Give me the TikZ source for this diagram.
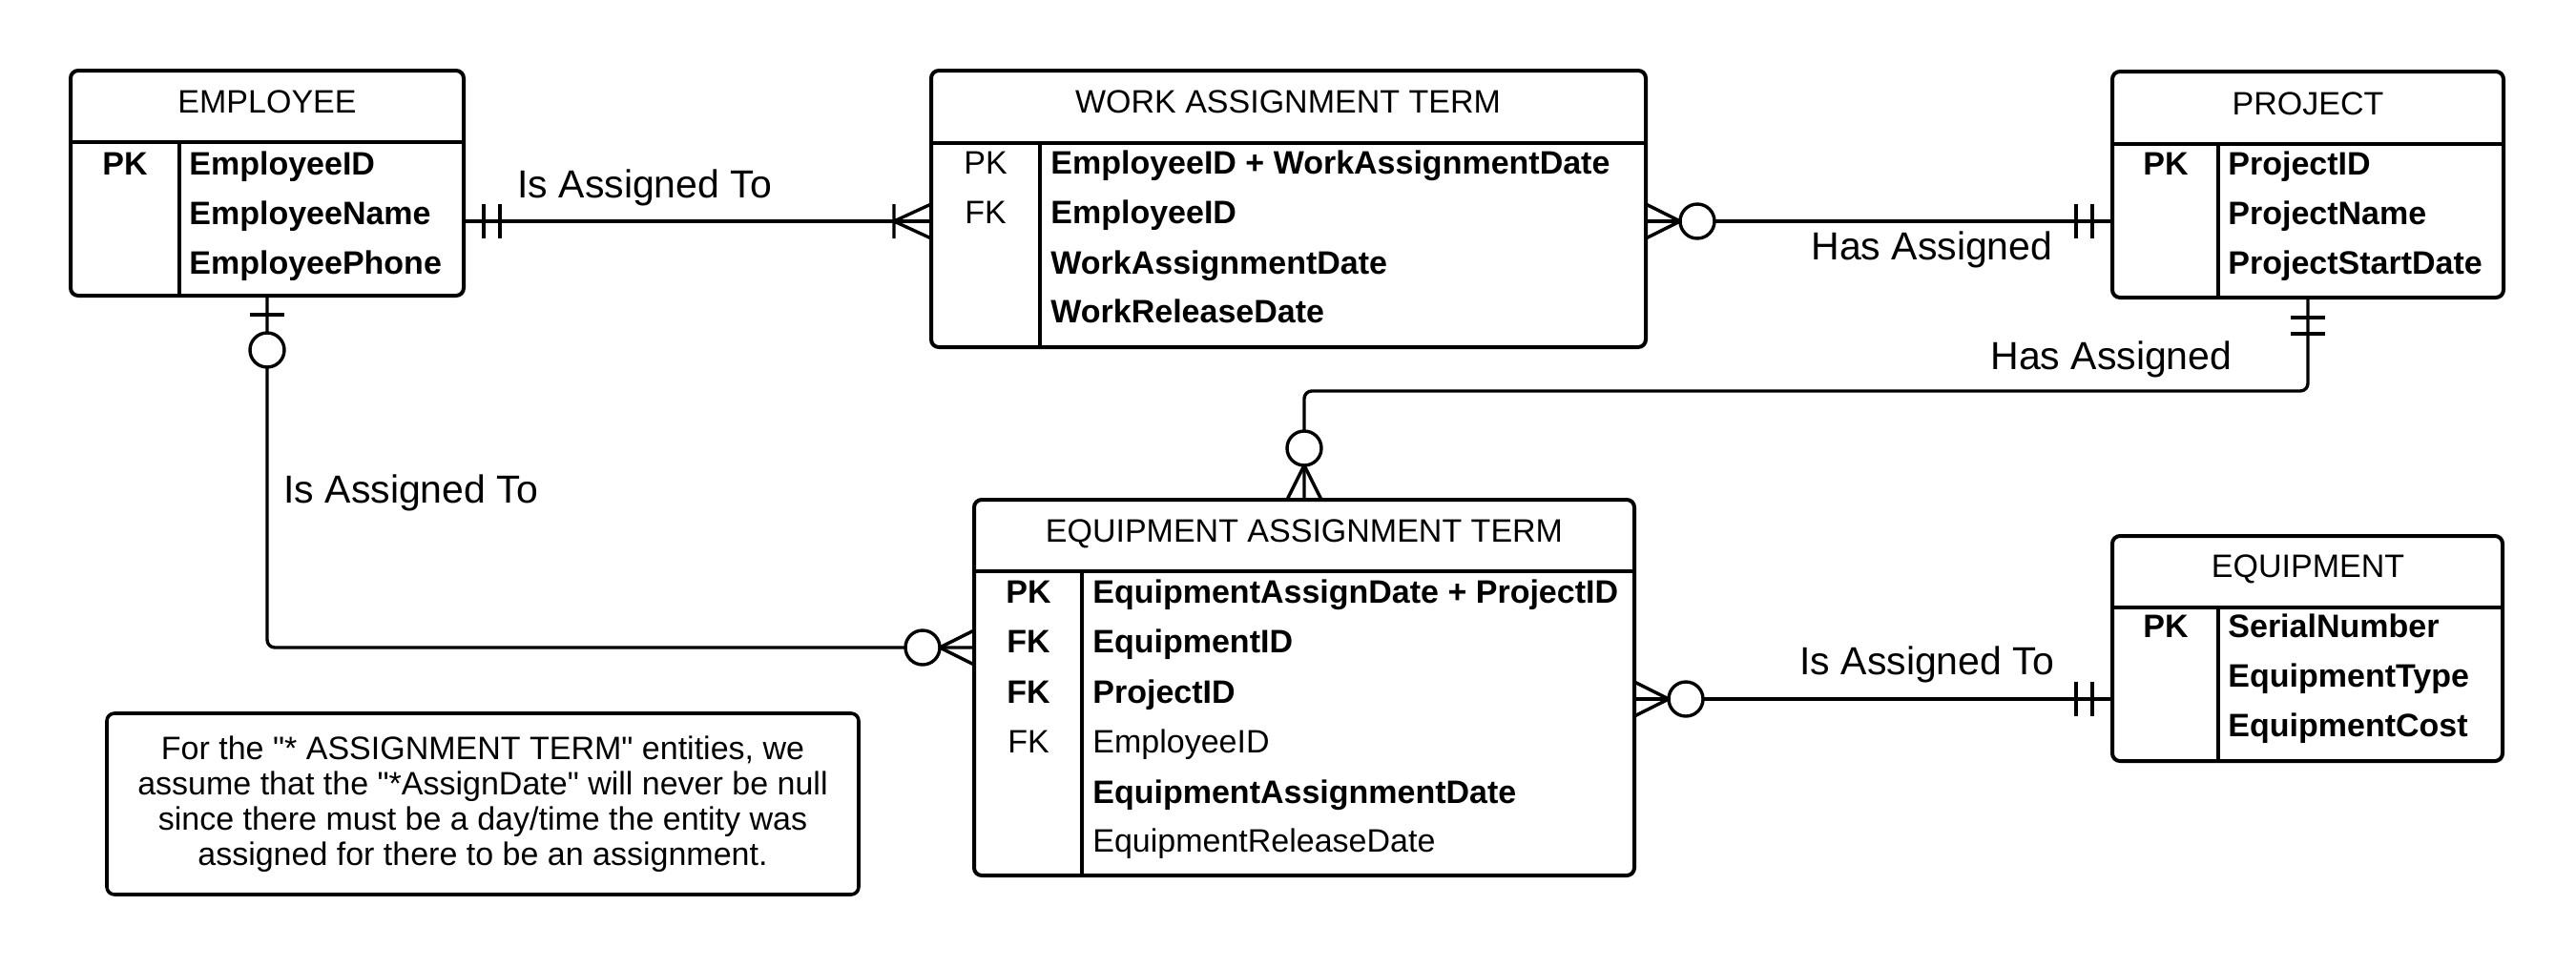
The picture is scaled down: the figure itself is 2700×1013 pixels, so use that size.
\documentclass[tikz,border=0pt]{standalone}
\usepackage{fontspec}
\setmainfont{Liberation Sans}[Ligatures=TeXOff]
\usetikzlibrary{fit}

\tikzset{
  entity/.style={draw, line width=2pt, rounded corners=4pt, inner sep=0pt, outer sep=0pt},
  divline/.style={line width=2pt},
  colline/.style={line width=1.9pt},
  relline/.style={line width=1.7pt},
  enttitle/.style={anchor=base, inner sep=0pt, font=\fontsize{17}{20}\selectfont},
  keytxt/.style={anchor=base, inner sep=0pt, font=\fontsize{17}{20}\selectfont},
  attrtxt/.style={anchor=base west, inner sep=0pt, font=\fontsize{17}{20}\selectfont},
  rellabel/.style={anchor=base west, inner sep=0pt, font=\fontsize{20.5}{24}\selectfont},
  note/.style={draw, line width=1.8pt, rounded corners=4pt, minimum width=394pt, minimum height=95pt,
    align=center, inner sep=0pt, font=\fontsize{17}{18.5}\selectfont},
  % cardinality marks, drawn outwards along +x from the box edge
  onlyone/.pic={\draw[relline] (21,-18) -- (21,18) (38,-18) -- (38,18);},
  zeroone/.pic={\draw[relline] (20,-18) -- (20,18);
    \draw[relline, fill=white] (57,0) circle[radius=9pt];},
  onemany/.pic={\draw[relline] (0,-18) -- (39,0) -- (0,18) (39,-18) -- (39,18);},
  zeromany/.pic={\draw[relline] (0,-18) -- (36,0) -- (0,18);
    \draw[relline, fill=white] (54,0) circle[radius=9pt];}
}

\begin{document}
\begin{tikzpicture}[x=0.5pt, y=-0.5pt]
\useasboundingbox (0,0) rectangle (2700,1013);

% EMPLOYEE
\node[entity, fit={(74,74) (486,310)}] (employee) {};
\draw[divline] (74,149) -- (486,149);
\draw[colline] (188,149) -- (188,310);
\node[enttitle] (emp-title) at (280,118) {EMPLOYEE};
\node[keytxt] (emp-pk) at (131,183) {\bfseries PK};
\node[attrtxt] (emp-a1) at (198,183) {\bfseries EmployeeID};
\node[attrtxt] (emp-a2) at (198,235) {\bfseries EmployeeName};
\node[attrtxt] (emp-a3) at (198,287) {\bfseries EmployeePhone};

% WORK ASSIGNMENT TERM
\node[entity, fit={(976,74) (1725,364)}] (workterm) {};
\draw[divline] (976,150) -- (1725,150);
\draw[colline] (1090,150) -- (1090,364);
\node[enttitle] (wat-title) at (1350,118) {WORK ASSIGNMENT TERM};
\node[keytxt] (wat-pk) at (1033,182) {PK};
\node[keytxt] (wat-fk) at (1033,234) {FK};
\node[attrtxt] (wat-a1) at (1101,182) {\bfseries EmployeeID + WorkAssignmentDate};
\node[attrtxt] (wat-a2) at (1101,234) {\bfseries EmployeeID};
\node[attrtxt] (wat-a3) at (1101,287) {\bfseries WorkAssignmentDate};
\node[attrtxt] (wat-a4) at (1101,338) {\bfseries WorkReleaseDate};

% PROJECT
\node[entity, fit={(2214,75) (2624,312)}] (project) {};
\draw[divline] (2214,151) -- (2624,151);
\draw[colline] (2325,151) -- (2325,312);
\node[enttitle] (prj-title) at (2419,120) {PROJECT};
\node[keytxt] (prj-pk) at (2270,183) {\bfseries PK};
\node[attrtxt] (prj-a1) at (2335,183) {\bfseries ProjectID};
\node[attrtxt] (prj-a2) at (2335,235) {\bfseries ProjectName};
\node[attrtxt] (prj-a3) at (2335,287) {\bfseries ProjectStartDate};

% EQUIPMENT ASSIGNMENT TERM
\node[entity, fit={(1021,524) (1713,918)}] (equipterm) {};
\draw[divline] (1021,599) -- (1713,599);
\draw[colline] (1134,599) -- (1134,918);
\node[enttitle] (eat-title) at (1367,568) {EQUIPMENT ASSIGNMENT TERM};
\node[keytxt] (eat-pk) at (1078,632) {\bfseries PK};
\node[keytxt] (eat-fk1) at (1078,684) {\bfseries FK};
\node[keytxt] (eat-fk2) at (1078,737) {\bfseries FK};
\node[keytxt] (eat-fk3) at (1078,789) {FK};
\node[attrtxt] (eat-a1) at (1145,632) {\bfseries EquipmentAssignDate + ProjectID};
\node[attrtxt] (eat-a2) at (1145,684) {\bfseries EquipmentID};
\node[attrtxt] (eat-a3) at (1145,737) {\bfseries ProjectID};
\node[attrtxt] (eat-a4) at (1145,789) {EmployeeID};
\node[attrtxt] (eat-a5) at (1145,842) {\bfseries EquipmentAssignmentDate};
\node[attrtxt] (eat-a6) at (1145,893) {EquipmentReleaseDate};

% EQUIPMENT
\node[entity, fit={(2214,562) (2623,798)}] (equipment) {};
\draw[divline] (2214,637) -- (2623,637);
\draw[colline] (2325,637) -- (2325,798);
\node[enttitle] (eqp-title) at (2419,605) {EQUIPMENT};
\node[keytxt] (eqp-pk) at (2270,668) {\bfseries PK};
\node[attrtxt] (eqp-a1) at (2335,668) {\bfseries SerialNumber};
\node[attrtxt] (eqp-a2) at (2335,720) {\bfseries EquipmentType};
\node[attrtxt] (eqp-a3) at (2335,772) {\bfseries EquipmentCost};

% relationships
\draw[relline] ([yshift=-20pt]employee.east) coordinate (c1a) -- (c1a -| workterm.west) coordinate (c1b);
\draw[relline] ([yshift=-6.5pt]workterm.east) coordinate (c2a) -- (c2a -| project.west) coordinate (c2b);
\draw[relline, rounded corners=4pt] (project.south) coordinate (c3a) -- ++(0,98) -| (equipterm.north) coordinate (c3b);
\draw[relline, rounded corners=4pt] (employee.south) coordinate (c4a) |- ([yshift=21pt]equipterm.west) coordinate (c4b);
\draw[relline] ([yshift=-6pt]equipterm.east) coordinate (c5a) -- (c5a -| equipment.west) coordinate (c5b);

\pic at (c1a) {onlyone};
\pic[rotate=180] at (c1b) {onemany};
\pic at (c2a) {zeromany};
\pic[rotate=180] at (c2b) {onlyone};
\pic[rotate=-90] at (c3a) {onlyone};
\pic[rotate=90] at (c3b) {zeromany};
\pic[rotate=-90] at (c4a) {zeroone};
\pic[rotate=180] at (c4b) {zeromany};
\pic at (c5a) {zeromany};
\pic[rotate=180] at (c5b) {onlyone};

\node[rellabel] (lab1) at (542,207) {Is Assigned To};
\node[rellabel] (lab2) at (1898,272) {Has Assigned};
\node[rellabel] (lab3) at (2086,387) {Has Assigned};
\node[rellabel] (lab4) at (297,527) {Is Assigned To};
\node[rellabel] (lab5) at (1886,707) {Is Assigned To};

\node[note] (note) at (506,843) {For the "* ASSIGNMENT TERM" entities, we\\
  assume that the "*AssignDate" will never be null\\
  since there must be a day/time the entity was\\
  assigned for there to be an assignment.};
\end{tikzpicture}
\end{document}
